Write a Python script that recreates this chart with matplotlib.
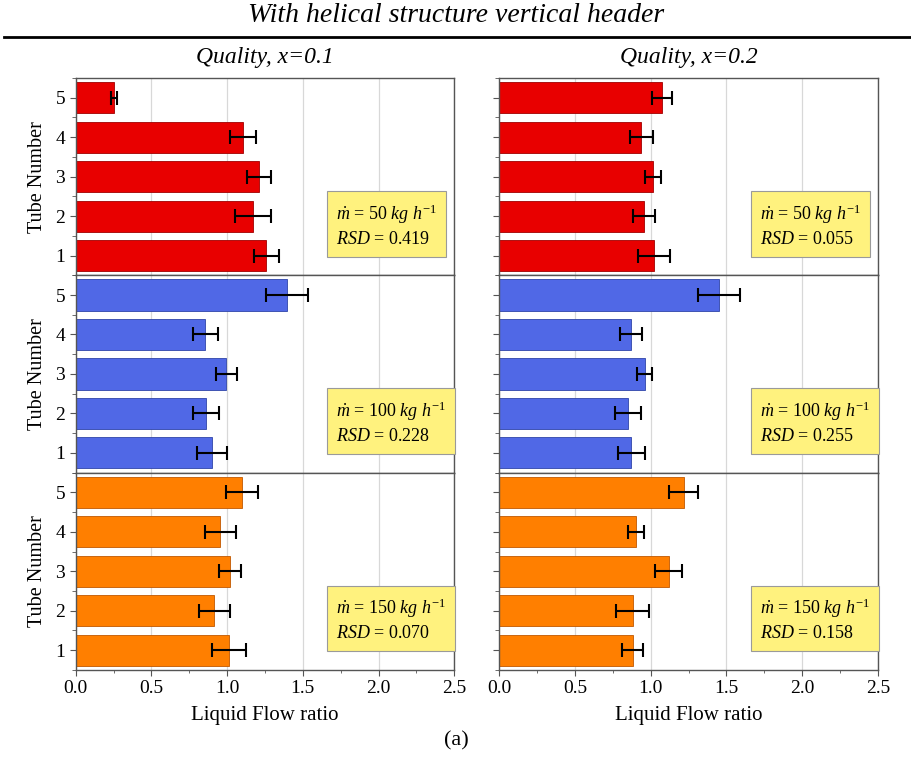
import matplotlib
matplotlib.use("Agg")
import matplotlib.pyplot as plt
import numpy as np
from matplotlib.lines import Line2D
from matplotlib.ticker import MultipleLocator, FormatStrFormatter

plt.rcParams['font.family'] = ['Liberation Serif', 'DejaVu Serif']
plt.rcParams['mathtext.fontset'] = 'custom'
plt.rcParams['mathtext.rm'] = 'Liberation Serif'
plt.rcParams['mathtext.it'] = 'Liberation Serif:italic'

tubes = [1, 2, 3, 4, 5]
flow_rates = [50, 100, 150]
qualities = ['0.1', '0.2']

# liquid flow ratio, tube 1..5, quality x=0.1
q1_50 = [1.26, 1.17, 1.21, 1.105, 0.253]
q1_50_err = [0.083, 0.12, 0.078, 0.088, 0.02]
q1_100 = [0.90, 0.86, 0.994, 0.856, 1.395]
q1_100_err = [0.10, 0.088, 0.07, 0.083, 0.141]
q1_150 = [1.012, 0.915, 1.019, 0.955, 1.10]
q1_150_err = [0.11, 0.102, 0.073, 0.102, 0.107]

# quality x=0.2
q2_50 = [1.021, 0.953, 1.014, 0.939, 1.074]
q2_50_err = [0.107, 0.073, 0.054, 0.076, 0.065]
q2_100 = [0.871, 0.849, 0.961, 0.871, 1.45]
q2_100_err = [0.089, 0.085, 0.05, 0.072, 0.137]
q2_150 = [0.882, 0.88, 1.118, 0.902, 1.219]
q2_150_err = [0.07, 0.107, 0.087, 0.052, 0.095]

rsd_q1 = ['0.419', '0.228', '0.070']
rsd_q2 = ['0.055', '0.255', '0.158']

colors = ['#E80000', '#5068E6', '#FF7F00']
edges = ['#A00000', '#2F45A8', '#C05800']

data = [
    [(q1_50, q1_50_err), (q1_100, q1_100_err), (q1_150, q1_150_err)],
    [(q2_50, q2_50_err), (q2_100, q2_100_err), (q2_150, q2_150_err)],
]
rsds = [rsd_q1, rsd_q2]

fig = plt.figure(figsize=(9.12, 7.81), dpi=100)

W, H = 912.0, 781.0
lefts = [75.7, 499.3]
ax_w = 378.5
top = 78.0
ph = 197.3

for col in range(2):
    for row in range(3):
        y0 = top + ph * (row + 1)
        ax = fig.add_axes([lefts[col] / W, 1 - y0 / H, ax_w / W, ph / H])
        vals, errs = data[col][row]
        ax.barh(tubes, vals, height=0.79, color=colors[row], edgecolor=edges[row],
                linewidth=0.6, zorder=2)
        ax.errorbar(vals, tubes, xerr=errs, fmt='none', ecolor='black',
                    elinewidth=1.5, capsize=5, capthick=1.5, zorder=3)
        ax.set_xlim(0, 2.5)
        ax.set_ylim(0.5, 5.5)
        ax.xaxis.set_major_locator(MultipleLocator(0.5))
        ax.xaxis.set_minor_locator(MultipleLocator(0.25))
        ax.xaxis.set_major_formatter(FormatStrFormatter('%.1f'))
        ax.set_yticks(tubes)
        ax.yaxis.set_minor_locator(MultipleLocator(0.5))
        ax.grid(axis='x', color='#d8d8d8', linewidth=0.9, zorder=0)
        ax.set_axisbelow(True)
        for s in ax.spines.values():
            s.set_color('#555555')
            s.set_linewidth(1.0)
        ax.tick_params(axis='both', which='both', direction='out', labelsize=14,
                       color='#555555')
        ax.tick_params(axis='y', which='major', length=4)
        ax.tick_params(axis='y', which='minor', length=3)
        ax.tick_params(axis='x', which='major', length=4)
        ax.tick_params(axis='x', which='minor', length=2.5)
        if col == 1:
            ax.set_yticklabels([])
        else:
            ax.set_ylabel('Tube Number', fontsize=14.5, labelpad=6)
        if row < 2:
            ax.tick_params(axis='x', which='both', length=0, labelbottom=False)
        else:
            ax.set_xlabel('Liquid Flow ratio', fontsize=15, labelpad=6)
        txt = r'$\dot{m}$ = %d $kg$ $h^{\mathit{-1}}$' % flow_rates[row] + '\n' + \
              r'$RSD$ = ' + rsds[col][row]
        ax.text(0.688, 0.255, txt, transform=ax.transAxes, fontsize=13,
                va='center', ha='left', linespacing=1.4, zorder=5,
                bbox=dict(boxstyle='square,pad=0.5', facecolor='#FFF27E',
                          edgecolor='#9a9a9a', linewidth=0.8))

fig.text(0.5, 1 - 16 / H, 'With helical structure vertical header', ha='center',
         va='center', fontsize=20, style='italic')
fig.add_artist(Line2D([0.004, 1.0], [1 - 37 / H, 1 - 37 / H], color='black', linewidth=2))
for col in range(2):
    cx = (lefts[col] + ax_w / 2) / W
    fig.text(cx, 1 - 57 / H, 'Quality, x=' + qualities[col], ha='center', va='center',
             fontsize=17, style='italic')
fig.text(0.5, 1 - 741 / H, '(a)', ha='center', va='center', fontsize=16)

fig.savefig('out.png', dpi=100)
